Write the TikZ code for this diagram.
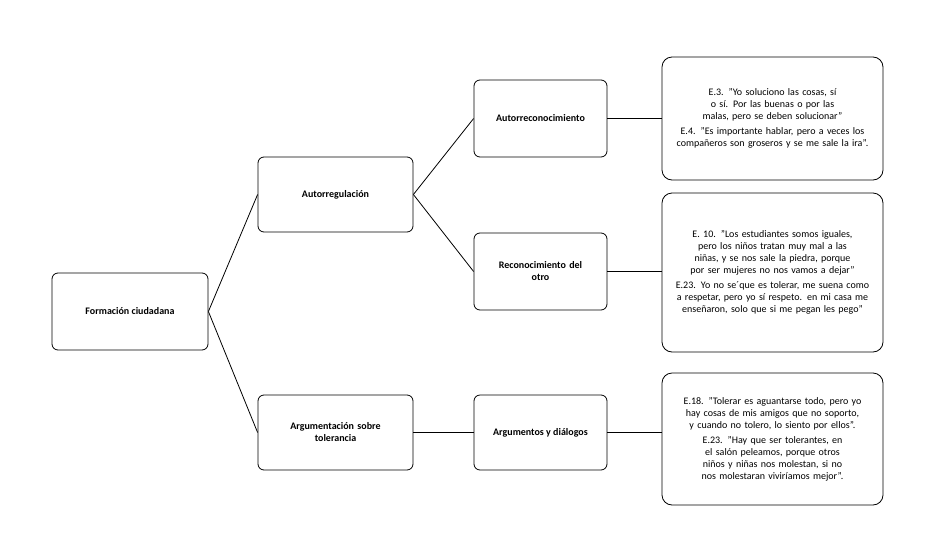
\documentclass[tikz,border=0pt]{standalone}
\usepackage{fontspec}
\setmainfont{Carlito}
\begin{document}
\hyphenpenalty=10000
\exhyphenpenalty=10000
\begin{tikzpicture}[x=1pt,y=-1pt,
 box/.style={draw,rounded corners=6pt,line width=0.8pt,align=center,font=\fontsize{10}{12}\selectfont\bfseries,inner sep=2pt},
 tbox/.style={draw,rounded corners=10pt,line width=0.8pt,align=center,font=\fontsize{10}{12}\selectfont,inner sep=2pt},
 ln/.style={line width=0.8pt}]
\useasboundingbox (0,0) rectangle (935,552);
\node[box,minimum width=156pt,minimum height=77pt] (fc) at (130,311.5) {Formación ciudadana};
\node[box,minimum width=155pt,minimum height=75pt] (ar) at (335.5,194.5) {Autorregulación};
\node[box,minimum width=155pt,minimum height=75pt,text width=140pt] (at) at (335.5,432.5) {Argumentación sobre\\tolerancia};
\node[box,minimum width=133pt,minimum height=77pt] (arc) at (540.5,118.5) {Autorreconocimiento};
\node[box,minimum width=133pt,minimum height=77pt,text width=125pt] (ro) at (540.5,271.5) {Reconocimiento del\\otro};
\node[box,minimum width=133pt,minimum height=75pt] (ad) at (540.5,432.5) {Argumentos y diálogos};
\node[tbox,minimum width=221pt,minimum height=123pt,text width=200pt] (t1) at (772.5,118.5) {E.3. "Yo soluciono las cosas, sí o sí. Por las buenas o por las malas, pero se deben solucionar"\\[3pt] E.4. "Es importante hablar, pero a veces los compañeros son groseros y se me sale la ira".};
\node[tbox,minimum width=221pt,minimum height=159pt,text width=200pt] (t2) at (772.5,272.5) {E. 10. "Los estudiantes somos iguales, pero los niños tratan muy mal a las niñas, y se nos sale la piedra, porque por ser mujeres no nos vamos a dejar"\\[3pt] E.23. Yo no se´que es tolerar, me suena como a respetar, pero yo sí respeto. en mi casa me enseñaron, solo que si me pegan les pego"};
\node[tbox,minimum width=221pt,minimum height=132pt,text width=200pt] (t3) at (772.5,439) {E.18. "Tolerar es aguantarse todo, pero yo hay cosas de mis amigos que no soporto, y cuando no tolero, lo siento por ellos".\\[3pt] E.23. "Hay que ser tolerantes, en el salón peleamos, porque otros niños y niñas nos molestan, si no nos molestaran viviríamos mejor".};
\draw[ln] (fc.east) -- (ar.west);
\draw[ln] (fc.east) -- (at.west);
\draw[ln] (ar.east) -- (arc.west);
\draw[ln] (ar.east) -- (ro.west);
\draw[ln] (at.east) -- (ad.west);
\draw[ln] (arc.east) -- (arc.east -| t1.west);
\draw[ln] (ro.east) -- (ro.east -| t2.west);
\draw[ln] (ad.east) -- (ad.east -| t3.west);
\end{tikzpicture}
\end{document}
